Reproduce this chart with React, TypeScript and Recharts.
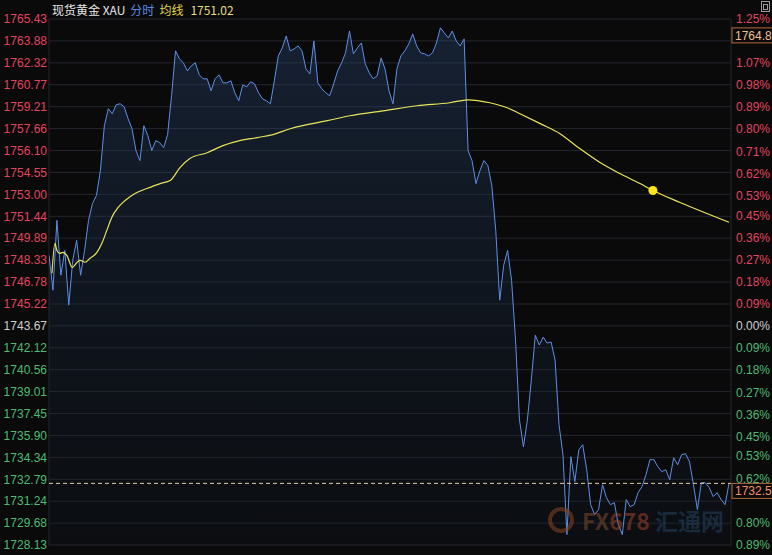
import React from 'react';
import {
  ComposedChart,
  Area,
  Line,
  XAxis,
  YAxis,
  CartesianGrid,
  ReferenceLine,
} from 'recharts';

// 现货黄金 XAU, intraday (分时), one session of 23h, one point every 8 minutes
const SESSION = 1380;
const STEP = 8;
const BASE = 1743.67; // previous close, 0.00%

const yTicks = [
  1765.43, 1763.88, 1762.32, 1760.77, 1759.21, 1757.66, 1756.1, 1754.55, 1753.0,
  1751.44, 1749.89, 1748.33, 1746.78, 1745.22, 1743.67, 1742.12, 1740.56, 1739.01,
  1737.45, 1735.9, 1734.34, 1732.79, 1731.24, 1729.68, 1728.13,
];

const pctTicks = [
  1.25, 1.16, 1.07, 0.98, 0.89, 0.8, 0.71, 0.62, 0.53, 0.45, 0.36, 0.27, 0.18, 0.09, 0,
  -0.09, -0.18, -0.27, -0.36, -0.45, -0.53, -0.62, -0.71, -0.8, -0.89,
];

const timeTicks = [0, 180, 360, 540, 720, 900, 1080, 1260, 1380];

const prices = [
  1748.67, 1746.2, 1751.15, 1747.26, 1749.02, 1745.14, 1748.32, 1749.73, 1747.26, 1749.02,
  1751.15, 1752.35, 1752.91, 1754.68, 1757.86, 1759.07, 1758.71, 1759.35, 1759.42, 1759.21,
  1758.36, 1757.65, 1756.1, 1755.39, 1757.86, 1757.16, 1756.1, 1756.8, 1756.66, 1756.31,
  1757.23, 1759.99, 1763.17, 1762.6, 1762.32, 1761.75, 1762.11, 1762.32, 1761.47, 1761.19,
  1761.19, 1760.34, 1761.19, 1761.47, 1760.9, 1760.9, 1761.05, 1760.2, 1759.63, 1760.76,
  1760.62, 1760.98, 1760.83, 1760.2, 1759.77, 1759.63, 1759.42, 1761.05, 1762.81, 1763.38,
  1764.23, 1763.17, 1763.31, 1763.52, 1763.17, 1761.89, 1761.54, 1763.87, 1760.9, 1760.48,
  1760.2, 1759.99, 1760.83, 1761.75, 1762.32, 1763.03, 1764.58, 1762.96, 1763.38, 1763.73,
  1762.25, 1761.61, 1761.19, 1761.4, 1762.67, 1761.89, 1760.34, 1759.42, 1761.89, 1762.81,
  1763.17, 1763.66, 1764.37, 1763.52, 1763.03, 1762.96, 1762.81, 1763.03, 1763.73, 1764.8,
  1764.44, 1764.09, 1764.58, 1763.87, 1763.52, 1764.02, 1756.1, 1755.39, 1753.76, 1754.68,
  1755.39, 1755.04, 1753.62, 1750.44, 1745.49, 1747.96, 1749.02, 1746.9, 1742.66, 1737.0,
  1735.09, 1737.0, 1739.83, 1743.01, 1742.31, 1742.87, 1742.45, 1742.52, 1741.25, 1736.65,
  1734.53, 1728.87, 1734.39, 1732.62, 1734.88, 1735.24, 1733.47, 1730.99, 1730.29, 1730.64,
  1732.41, 1731.49, 1730.99, 1731.13, 1729.58, 1728.87, 1731.35, 1730.85, 1730.99, 1731.84,
  1732.27, 1733.11, 1734.18, 1734.18, 1733.68, 1733.33, 1733.47, 1732.76, 1734.32, 1733.82,
  1734.53, 1734.6, 1734.03, 1732.41, 1730.64, 1732.55, 1732.55, 1732.2, 1731.56, 1731.84,
  1731.35, 1730.99, 1732.5,
];

// 均线 (average price), minutes from session start
const avgTimes = [
  6, 12, 16, 22, 28, 36, 47, 57, 63, 73, 83, 97, 107, 117, 127, 140, 154, 174, 198, 225,
  245, 265, 285, 320, 352, 386, 421, 453, 488, 563, 609, 676, 745, 811, 848, 892, 927, 953,
  994, 1034, 1074, 1115, 1155, 1196, 1222, 1277, 1376,
];
const avgValues = [
  1747.4, 1749.52, 1749.02, 1748.81, 1748.88, 1748.67, 1747.82, 1748.18, 1748.32, 1748.18,
  1748.46, 1748.88, 1749.52, 1750.44, 1751.36, 1752.07, 1752.56, 1753.06, 1753.41, 1753.76,
  1753.97, 1754.89, 1755.53, 1755.95, 1756.45, 1756.8, 1757.02, 1757.23, 1757.65, 1758.22,
  1758.57, 1758.92, 1759.28, 1759.49, 1759.7, 1759.49, 1759.14, 1758.71, 1758.01, 1757.3,
  1756.24, 1755.25, 1754.47, 1753.76, 1753.27, 1752.42, 1751.02,
];
const AVG_MARK = 44; // cursor point on the average line

const RED = '#e2455f';
const GREEN = '#4dbb74';
const NEUTRAL = '#cfcfcf';
const FONT = '"Liberation Sans", Arial, sans-serif';

function colorFor(diff: number) {
  if (Math.abs(diff) < 1e-6) return NEUTRAL;
  return diff > 0 ? RED : GREEN;
}

const high = Math.max(...prices);
const last = prices[prices.length - 1];

function LeftTick(props: any) {
  const { x, y, payload } = props;
  const v = payload.value;
  return (
    <text x={x} y={y} dy="0.36em" textAnchor="end" fill={colorFor(v - BASE)} fontSize={12} fontFamily={FONT}>
      {v.toFixed(2)}
    </text>
  );
}

function RightTick(props: any) {
  const { x, y, payload } = props;
  const p = payload.value;
  const price = BASE * (1 + p / 100);
  // price boxes sit just below their line and cover these labels
  for (const ref of [high, last]) {
    if (ref - price > 0 && ref - price < 1.4) return <g />;
  }
  return (
    <text x={x} y={y} dy="0.36em" textAnchor="start" fill={colorFor(p)} fontSize={12} fontFamily={FONT}>
      {Math.abs(p).toFixed(2)}%
    </text>
  );
}

function priceBox(text: string, color: string) {
  return (props: any) => {
    const vb = props.viewBox;
    const x = vb.x + vb.width + 1;
    const y = vb.y;
    return (
      <g>
        <rect x={x} y={y} width={44} height={15} fill="#0a0a0b" stroke="#b8683a" strokeWidth={1} />
        <text x={x + 3} y={y + 12} fill={color} fontSize={12} fontFamily={FONT}>
          {text}
        </text>
      </g>
    );
  };
}

export default function App() {
  const priceData = prices.map((p, i) => ({ t: i * STEP, price: p }));
  const avgData = avgTimes.map((t, i) => ({ t, avg: avgValues[i] }));
  const pctMin = ((yTicks[yTicks.length - 1] - BASE) / BASE) * 100;
  const pctMax = ((yTicks[0] - BASE) / BASE) * 100;

  return (
    <div style={s.wrap}>
      <ComposedChart width={772} height={555} margin={{ top: 19, right: 0, bottom: 10, left: 0 }}>
        <defs>
          <linearGradient id="priceFill" x1="0" y1="0" x2="0" y2="1">
            <stop offset="0%" stopColor="#2b4a78" stopOpacity={0.6} />
            <stop offset="100%" stopColor="#101a28" stopOpacity={0.35} />
          </linearGradient>
        </defs>
        <CartesianGrid stroke="#24272d" strokeWidth={1} />
        <XAxis
          type="number"
          dataKey="t"
          domain={[0, SESSION]}
          ticks={timeTicks}
          height={0}
          tick={false}
          axisLine={false}
          tickLine={false}
          allowDataOverflow
        />
        <YAxis
          domain={[yTicks[yTicks.length - 1], yTicks[0]]}
          ticks={yTicks}
          interval={0}
          width={49}
          tick={<LeftTick />}
          tickSize={0}
          tickMargin={2}
          axisLine={false}
          tickLine={false}
          allowDataOverflow
        />
        <YAxis
          yAxisId="pct"
          orientation="right"
          domain={[pctMin, pctMax]}
          ticks={pctTicks}
          interval={0}
          width={41}
          tick={<RightTick />}
          tickSize={0}
          tickMargin={5}
          axisLine={false}
          tickLine={false}
          allowDataOverflow
        />
        <Area
          data={priceData}
          dataKey="price"
          type="linear"
          stroke="#5d8fe6"
          strokeWidth={1}
          fill="url(#priceFill)"
          isAnimationActive={false}
          dot={false}
          activeDot={false}
        />
        <Line
          data={avgData}
          dataKey="avg"
          type="monotone"
          stroke="#e9e55a"
          strokeWidth={1.2}
          isAnimationActive={false}
          activeDot={false}
          dot={(props: any) =>
            props.index === AVG_MARK ? (
              <circle key="mark" cx={props.cx} cy={props.cy} r={4.5} fill="#ffe419" />
            ) : (
              <g key={props.index} />
            )
          }
        />
        <ReferenceLine y={last} stroke="#e6cba8" strokeDasharray="4 3" label={priceBox(last.toFixed(1), '#f29068')} />
        <ReferenceLine y={high} stroke="none" label={priceBox(high.toFixed(1), '#f0c08e')} />
      </ComposedChart>

      <div style={s.title}>
        <span style={{ color: '#e6e6e6' }}>现货黄金 XAU</span>
        <span style={{ color: '#5a8be0', marginLeft: 5 }}>分时</span>
        <span style={{ color: '#e3d64a', marginLeft: 5 }}>均线</span>
        <span style={{ color: '#e6dc86', marginLeft: 7 }}>{avgValues[avgValues.length - 1].toFixed(2)}</span>
      </div>
      <div style={s.icon}>
        <div style={s.iconInner} />
      </div>

      <div style={s.mark}>
        <div style={s.ring} />
        <span style={{ color: '#7a4a2e' }}>FX</span>
        <span style={{ color: '#9a4228' }}>678</span>
        <span style={{ color: '#23425f', marginLeft: 5 }}>汇通网</span>
      </div>
    </div>
  );
}

const s: Record<string, React.CSSProperties> = {
  wrap: {
    position: 'absolute',
    left: 0,
    top: 0,
    width: 772,
    height: 555,
    background: '#0a0a0b',
    overflow: 'hidden',
  },
  title: {
    position: 'absolute',
    left: 52,
    top: 1,
    fontSize: 12,
    fontFamily: '"Noto Sans CJK SC", "Liberation Sans", sans-serif',
    whiteSpace: 'nowrap',
  },
  icon: {
    position: 'absolute',
    left: 761,
    top: 1,
    width: 9,
    height: 11,
    border: '1px solid #9a9a9a',
    boxSizing: 'border-box',
  },
  iconInner: {
    margin: '2px 1px',
    height: 4,
    border: '1px solid #9a9a9a',
  },
  mark: {
    position: 'absolute',
    left: 548,
    top: 506,
    display: 'flex',
    alignItems: 'center',
    fontSize: 23,
    fontWeight: 700,
    fontFamily: '"Noto Sans CJK SC", "Liberation Sans", sans-serif',
    opacity: 0.55,
    pointerEvents: 'none',
    lineHeight: '28px',
  },
  ring: {
    width: 18,
    height: 18,
    borderRadius: '50%',
    border: '4px solid #8a4422',
    marginRight: 8,
  },
};
